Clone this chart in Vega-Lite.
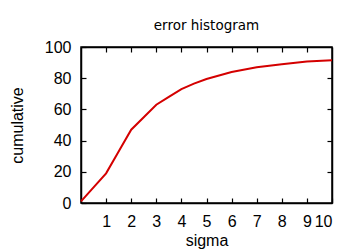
{
  "$schema": "https://vega.github.io/schema/vega-lite/v6.json",
  "width": 251,
  "height": 156,
  "autosize": {"type": "none"},
  "padding": {"left": 81, "top": 47, "right": 28, "bottom": 49},
  "background": "white",
  "title": {"text": "error histogram", "font": "DejaVu Sans", "fontSize": 13.5, "fontWeight": "normal", "color": "#000", "offset": 7},
  "config": {
    "view": {"stroke": "#000", "strokeWidth": 1.5},
    "axis": {"labelFont": "Liberation Sans", "labelFontSize": 16, "labelFontWeight": "normal", "labelColor": "#000", "titleFont": "Liberation Sans", "titleFontSize": 16, "titleFontWeight": "normal", "titleColor": "#000", "grid": false, "domainColor": "#000", "domainWidth": 1.5, "tickColor": "#000", "tickWidth": 1.2, "tickSize": -5}
  },
  "data": {"values": [
    {"sigma": 0, "cumulative": 1},
    {"sigma": 0.5, "cumulative": 10},
    {"sigma": 1, "cumulative": 19},
    {"sigma": 1.5, "cumulative": 33},
    {"sigma": 2, "cumulative": 47},
    {"sigma": 2.5, "cumulative": 55},
    {"sigma": 3, "cumulative": 63},
    {"sigma": 3.5, "cumulative": 68},
    {"sigma": 4, "cumulative": 73},
    {"sigma": 4.5, "cumulative": 76.5},
    {"sigma": 5, "cumulative": 79.5},
    {"sigma": 6, "cumulative": 84},
    {"sigma": 7, "cumulative": 87},
    {"sigma": 8, "cumulative": 89},
    {"sigma": 9, "cumulative": 90.7},
    {"sigma": 10, "cumulative": 91.5}
  ]},
  "layer": [
    {
      "mark": {"type": "line", "color": "#d40000", "strokeWidth": 2},
      "encoding": {
        "x": {"field": "sigma", "type": "quantitative", "scale": {"domain": [0, 10], "nice": false},
              "axis": {"orient": "bottom", "values": [1,2,3,4,5,6,7,8,9,10], "labelPadding": 15, "title": "sigma", "titlePadding": 3}},
        "y": {"field": "cumulative", "type": "quantitative", "scale": {"domain": [0, 100], "nice": false},
              "axis": {"orient": "left", "values": [0,20,40,60,80,100], "labelPadding": 15, "title": "cumulative", "titlePadding": 19}}
      }
    },
    {
      "mark": {"type": "line", "opacity": 0},
      "encoding": {
        "x": {"field": "sigma", "type": "quantitative", "scale": {"domain": [0, 10], "nice": false},
              "axis": {"orient": "top", "values": [1,2,3,4,5,6,7,8,9], "labels": false, "title": null}},
        "y": {"field": "cumulative", "type": "quantitative", "scale": {"domain": [0, 100], "nice": false},
              "axis": {"orient": "right", "values": [20,40,60,80], "labels": false, "title": null}}
      }
    }
  ],
  "resolve": {"axis": {"x": "independent", "y": "independent"}}
}
